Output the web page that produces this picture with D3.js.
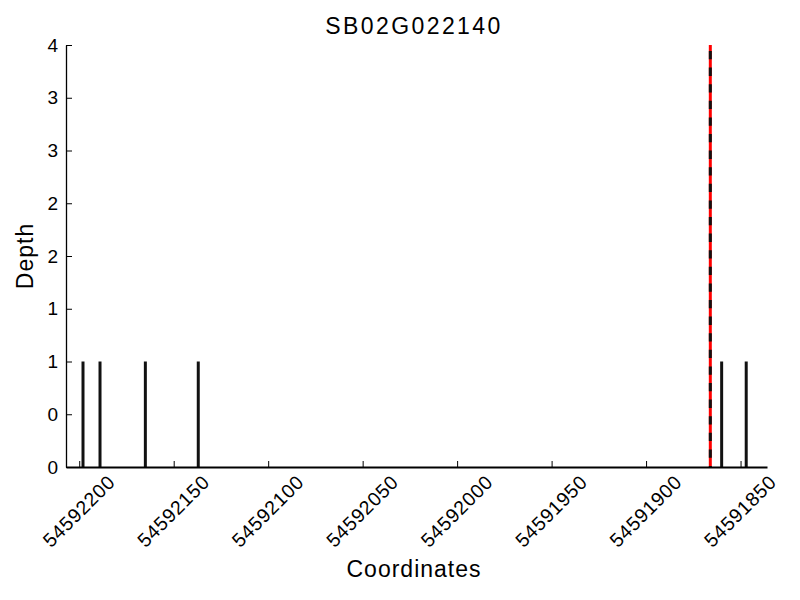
<!DOCTYPE html>
<html>
<head>
<script src="https://cdn.jsdelivr.net/npm/d3@7"></script>
  <meta charset="utf-8">
  <title>SB02G022140</title>
  <style>
    body { margin: 0; background: #fff; }
    text { font-family: "Liberation Sans", Arial, sans-serif; fill: #000; }
  </style>
</head>
<body>

<svg width="800" height="600"></svg>

<script>

	// read coverage: genomic coordinate -> depth
	var positions = [54592198, 54592189, 54592165, 54592137, 54591860, 54591847];
	var depths = [1, 1, 1, 1, 1, 1];

	// marked site (dashed red/black line)
	var markPos = 54591866;

	var xTicks = [54592200, 54592150, 54592100, 54592050, 54592000, 54591950, 54591900, 54591850];
	var yTicks = [0, 0.5, 1, 1.5, 2, 2.5, 3, 3.5, 4];
	var yTickLabels = ['0', '0', '1', '1', '2', '2', '3', '3', '4'];

	var margin = {top: 45, right: 33, bottom: 133, left: 66};
	var width = 800 - margin.left - margin.right;
	var height = 600 - margin.top - margin.bottom;

	var svg = d3.select('svg');
	var g = svg.append('g')
		.attr('transform', 'translate(' + margin.left + ',' + margin.top + ')');

	//coordinates run right to left
	var x = d3.scaleLinear()
		.domain([54592207, 54591836])
		.range([0, width]);

	var y = d3.scaleLinear()
		.domain([0, 4])
		.range([height, 0]);

	//bars
	g.selectAll('line.bar')
			.data(positions)
		.enter().append('line')
			.attr('class', 'bar')
			.attr('x1', function(d) { return x(d); })
			.attr('x2', function(d) { return x(d); })
			.attr('y1', y(0))
			.attr('y2', function(d, i) { return y(depths[i]); })
			.attr('stroke', '#111')
			.attr('stroke-width', 3);

	//marker line: red under black dashes
	g.append('line')
		.attr('x1', x(markPos)).attr('x2', x(markPos))
		.attr('y1', y(0)).attr('y2', y(4))
		.attr('stroke', '#ff0000')
		.attr('stroke-width', 3);
	g.append('line')
		.attr('x1', x(markPos)).attr('x2', x(markPos))
		.attr('y1', y(4)).attr('y2', y(0))
		.attr('stroke', '#111')
		.attr('stroke-width', 3)
		.attr('stroke-dasharray', '8.3,8.3')
		.attr('stroke-dashoffset', -6);

	//x axis, ticks pointing inward
	var xAxis = d3.axisBottom(x)
		.tickValues(xTicks)
		.tickSizeInner(-6)
		.tickSizeOuter(0)
		.tickFormat(d3.format('d'));

	var gx = g.append('g')
		.attr('transform', 'translate(0,' + height + ')')
		.call(xAxis);
	gx.select('.domain').attr('stroke-width', 1.8);
	gx.selectAll('.tick line').attr('stroke-width', 1);
	gx.selectAll('.tick text')
		.attr('font-size', 19.5)
		.attr('font-family', '"Liberation Sans", Arial, sans-serif')
		.attr('letter-spacing', 0.7)
		.attr('text-anchor', 'middle')
		.attr('dominant-baseline', 'central')
		.attr('y', 0)
		.attr('dy', null)
		.attr('transform', 'translate(-1,44) rotate(-45)');

	//y axis, ticks pointing inward
	var yAxis = d3.axisLeft(y)
		.tickValues(yTicks)
		.tickSizeInner(-6)
		.tickSizeOuter(0)
		.tickPadding(8)
		.tickFormat(function(d, i) { return yTickLabels[i]; });

	var gy = g.append('g').call(yAxis);
	gy.select('.domain').attr('stroke-width', 1.3);
	gy.selectAll('.tick text')
		.attr('font-size', 19)
		.attr('font-family', '"Liberation Sans", Arial, sans-serif');

	//title and axis labels
	svg.append('text')
		.attr('x', 414).attr('y', 34)
		.attr('text-anchor', 'middle')
		.attr('font-size', 23)
		.attr('letter-spacing', 2.4)
		.text('SB02G022140');

	svg.append('text')
		.attr('x', 414).attr('y', 577)
		.attr('text-anchor', 'middle')
		.attr('font-size', 23)
		.attr('letter-spacing', 1)
		.text('Coordinates');

	svg.append('text')
		.attr('transform', 'translate(33,256) rotate(-90)')
		.attr('text-anchor', 'middle')
		.attr('font-size', 23)
		.attr('letter-spacing', 1)
		.text('Depth');

</script>
</body>
</html>
